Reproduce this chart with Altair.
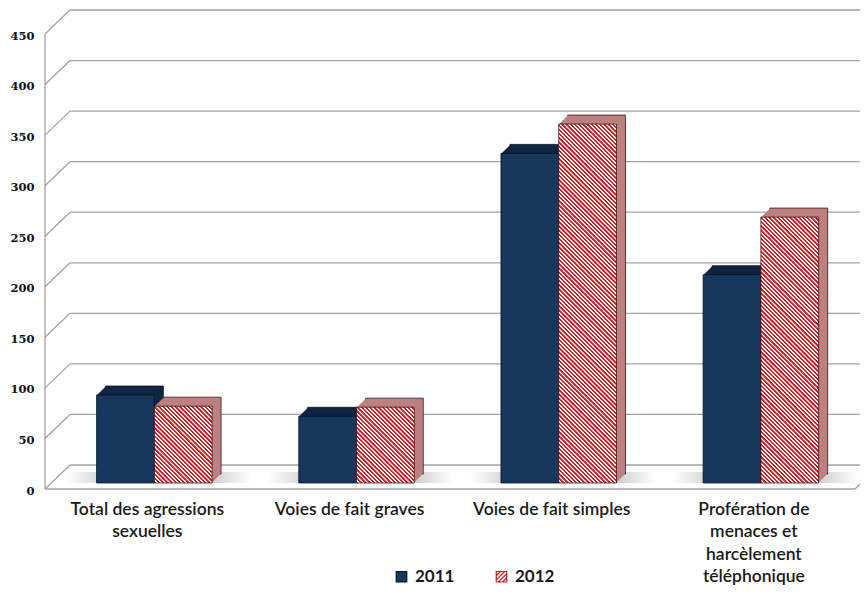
import math
import altair as alt
import pandas as pd

# ---------------- data ----------------
categories = [
    "Total des agressions\nsexuelles",
    "Voies de fait graves",
    "Voies de fait simples",
    "Profération de\nmenaces et\nharcèlement\ntéléphonique",
]
years = ["2011", "2012"]
values_2011 = [87, 66, 326, 206]
values_2012 = [76, 75, 355, 263]
y_ticks = [0, 50, 100, 150, 200, 250, 300, 350, 400, 450]

# ---------------- layout / style ----------------
W = 815
H = 455
YMAX = 450
PX = H / YMAX
BAR_W = 57.75
DEPTH = 9
NAVY = "#17375e"
NAVY_TOP = "#0f2542"
NAVY_EDGE = "#08121f"
RED = "#c92128"
PINK_SIDE = "#bd8080"
RED_EDGE = "#3b1616"
GRID = "#a3a3a3"

df11 = pd.DataFrame({"cat": categories, "year": "2011", "value": values_2011})
df12 = pd.DataFrame({"cat": categories, "year": "2012", "value": values_2012})
ticks_df = pd.DataFrame({"v": y_ticks})
legend_df = pd.DataFrame({"year": years})

x_scale = alt.Scale(domain=categories, paddingInner=0.429, paddingOuter=0.23, align=0.555)
y_scale = alt.Scale(domain=[0, YMAX], nice=False, zero=True)

x_axis = alt.Axis(
    title=None, domain=False, ticks=False, grid=False, labelAngle=0,
    labelExpr="split(datum.label, '\\n')",
    labelFont="Lato", labelFontSize=17.5, labelFontWeight=600, labelLineHeight=22.5,
    labelPadding=17, labelOffset=-7, labelColor="#1a1a1a", labelLimit=400,
)
y_axis = alt.Axis(
    title=None, domain=False, ticks=False, grid=False, values=y_ticks,
    labelFont="DejaVu Serif", labelFontSize=11.5, labelFontWeight="bold",
    labelColor="#111111", labelPadding=11, labelOffset=8,
)


def X():
    return alt.X("cat:N", scale=x_scale, axis=x_axis, sort=categories)


def Y(field):
    return alt.Y(field, scale=y_scale, axis=y_axis)


layers = []

# back wall gridlines
layers.append(
    alt.Chart(ticks_df).mark_rule(color=GRID, strokeWidth=1.3, yOffset=-18)
    .encode(y=Y("v:Q"), x=alt.value(25), x2=alt.value(W))
)
# diagonal connectors from front axis to back wall
layers.append(
    alt.Chart(ticks_df).mark_rule(color=GRID, strokeWidth=1.3, yOffset=6, y2Offset=-18)
    .encode(y=Y("v:Q"), y2="v:Q", x=alt.value(0), x2=alt.value(25))
)
# front vertical axis line
layers.append(
    alt.Chart(ticks_df).transform_aggregate(lo="min(v)", hi="max(v)")
    .mark_rule(color=GRID, strokeWidth=1.3, yOffset=6, y2Offset=6)
    .encode(y=Y("lo:Q"), y2="hi:Q", x=alt.value(0))
)
# front floor line
floor = alt.Chart(ticks_df).transform_filter("datum.v == 0")
layers.append(
    floor.mark_rule(color=GRID, strokeWidth=1.3, yOffset=6)
    .encode(y=Y("v:Q"), x=alt.value(0), x2=alt.value(810))
)
layers.append(
    floor.mark_rule(color=GRID, strokeWidth=1.3, yOffset=6, y2Offset=-18)
    .encode(y=Y("v:Q"), y2="v:Q", x=alt.value(810), x2=alt.value(835))
)

# legend carrier (drawn off-canvas)
legend = alt.Legend(
    title=None, orient="none", legendX=348, legendY=540, direction="horizontal",
    symbolSize=110, symbolStrokeWidth=1.2, padding=0, columnPadding=38, labelOffset=5,
    labelFont="Lato", labelFontSize=17, labelFontWeight="bold", labelColor="#1a1a1a",
    symbolOpacity=1,
)
hatch = "M-1,-1H1V1H-1Z M-1,-0.2L-0.2,-1 M-1,0.6L0.6,-1 M-0.6,1L1,-0.6 M0.2,1L1,0.2"
layers.append(
    alt.Chart(legend_df).mark_point(filled=True, size=110, strokeWidth=1.2, opacity=1)
    .encode(
        x=alt.value(-300), y=alt.value(-300),
        fill=alt.Fill("year:N", scale=alt.Scale(domain=years, range=[NAVY, "#ffffff"]), legend=legend),
        stroke=alt.Stroke("year:N", scale=alt.Scale(domain=years, range=[NAVY_EDGE, RED]), legend=legend),
        shape=alt.Shape("year:N", scale=alt.Scale(domain=years, range=["M-1,-1H1V1H-1Z", hatch]), legend=legend),
    )
)

# floor shadow under each group
shadow_fill = {
    "gradient": "linear", "x1": 0, "y1": 0, "x2": 1, "y2": 0,
    "stops": [
        {"offset": 0, "color": "#ffffff"},
        {"offset": 0.22, "color": "#b0b0b0"},
        {"offset": 0.8, "color": "#b0b0b0"},
        {"offset": 1, "color": "#ffffff"},
    ],
}
layers.append(
    alt.Chart(df11).transform_calculate(z="0")
    .mark_bar(width=2 * BAR_W + 70, xOffset=4, y2Offset=-11, fill=shadow_fill, opacity=0.6)
    .encode(x=X(), y=Y("z:Q"), y2="z:Q")
)


def extrusion(df, base_off, color, edge):
    out = []
    for s in range(DEPTH, 0, -1):
        kw = dict(width=BAR_W, xOffset=base_off + s, yOffset=-s, y2Offset=-s, fill=color)
        if s == DEPTH:
            kw.update(stroke=edge, strokeWidth=0.8)
        out.append(
            alt.Chart(df).transform_calculate(z="0").mark_bar(**kw)
            .encode(x=X(), y=Y("value:Q"), y2="z:Q")
        )
    return out


# 2011 bars
layers += extrusion(df11, -BAR_W / 2, NAVY_TOP, NAVY_EDGE)
layers.append(
    alt.Chart(df11).transform_calculate(z="0")
    .mark_bar(width=BAR_W, xOffset=-BAR_W / 2, fill=NAVY, stroke=NAVY_EDGE, strokeWidth=0.8)
    .encode(x=X(), y=Y("value:Q"), y2="z:Q")
)

# 2012 bars
layers += extrusion(df12, BAR_W / 2, PINK_SIDE, RED_EDGE)


def stripes(value, period=4.2):
    w = BAR_W
    h = value * PX
    k = (w + h) / (w * w + h * h)
    f = period / (w + h)
    stops = []
    i = 0
    while True:
        o = i * f
        if o > 1:
            break
        for off, col in ((o, RED), (o + 0.46 * f, RED), (o + 0.56 * f, "#ffffff"), (o + 0.92 * f, "#ffffff")):
            if off <= 1:
                stops.append({"offset": round(off, 5), "color": col})
        i += 1
    return {"gradient": "linear", "x1": 0, "y1": 1, "x2": k * w, "y2": 1 - k * h, "stops": stops}


for c, v in zip(categories, values_2012):
    layers.append(
        alt.Chart(df12[df12["cat"] == c]).transform_calculate(z="0")
        .mark_bar(width=BAR_W, xOffset=BAR_W / 2, fill=stripes(v), stroke=RED_EDGE, strokeWidth=0.8)
        .encode(x=X(), y=Y("value:Q"), y2="z:Q")
    )

chart = (
    alt.layer(*layers)
    .properties(
        width=W, height=H,
        padding={"left": 37, "top": 20, "right": 0, "bottom": 104},
        autosize=alt.AutoSizeParams(type="none"),
        background="#ffffff",
    )
    .configure_view(strokeWidth=0)
)

chart.save("out.html", embed_options={"renderer": "svg", "actions": False})
